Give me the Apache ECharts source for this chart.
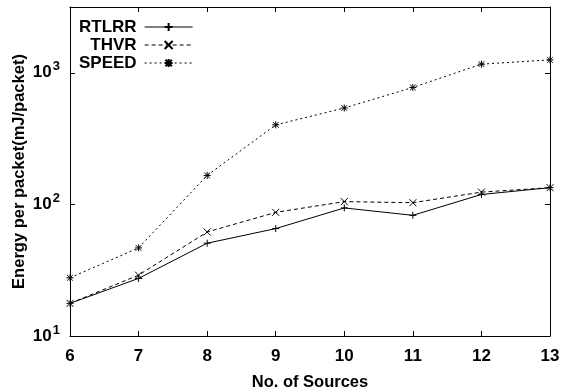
<!DOCTYPE html>
<html>
<head>
<meta charset="utf-8">
<script src="https://cdn.jsdelivr.net/npm/echarts@6/dist/echarts.min.js"></script>
<style>
  html, body {margin: 0; padding: 0; background: #fff;}
  #chart {width: 561px; height: 392px;}
</style>
</head>
<body>
<div id="chart"></div>
<script>
// values
const sources = [6, 7, 8, 9, 10, 11, 12, 13];
const rtlrr = [17.7, 27.4, 50.7, 65.5, 94, 82.6, 119, 134];
const thvr = [17.7, 29, 61.7, 87, 105, 103, 124, 134];
const speed = [27.7, 46.7, 166, 402, 540, 774, 1164, 1254];

const plus = 'path://M5,0L5,10M0,5L10,5';
const cross = 'path://M0,0L10,10M10,0L0,10';
const star = 'path://M5,0L5,10M0,5L10,5M1,1L9,9M9,1L1,9';

const font = 'Liberation Sans, Arial, sans-serif';
const pairs = (ys) => sources.map((x, i) => [x, ys[i]]);

const chart = echarts.init(document.getElementById('chart'));

function mkSeries(name, ys, dash, sym) {
  return {
    name: name,
    type: 'line',
    data: pairs(ys),
    symbol: sym,
    symbolSize: 7,
    showAllSymbol: true,
    lineStyle: {color: '#000', width: 1, type: dash},
    itemStyle: {color: '#000', borderColor: '#000', borderWidth: 1},
    emphasis: {disabled: true},
    animation: false
  };
}

chart.setOption({
  backgroundColor: '#fff',
  textStyle: {fontFamily: font},
  grid: {left: 70, right: 11, top: 7, bottom: 56, containLabel: false, outerBoundsMode: 'none'},
  legend: {
    left: 74,
    top: 13,
    orient: 'vertical',
    align: 'right',
    itemWidth: 48,
    itemHeight: 10,
    itemGap: 0,
    lineStyle: {width: 1},
    textStyle: {fontSize: 17, lineHeight: 18, fontWeight: 'bold', color: '#000', fontFamily: font, padding: [0, 3, 0, 0]},
    data: ['RTLRR', 'THVR', 'SPEED']
  },
  xAxis: [{
    type: 'value',
    min: 6, max: 13, interval: 1,
    name: 'No. of Sources',
    nameLocation: 'middle',
    nameGap: 38,
    nameMoveOverlap: false,
    nameTextStyle: {fontSize: 16.5, fontWeight: 'bold', color: '#000'},
    axisLine: {lineStyle: {color: '#000', width: 1}},
    axisTick: {inside: true, length: 5, lineStyle: {color: '#000'}},
    axisLabel: {fontSize: 17, fontWeight: 'bold', color: '#000', margin: 12},
    splitLine: {show: false}
  }, {
    type: 'value',
    position: 'top',
    min: 6, max: 13, interval: 1,
    axisLine: {show: true, lineStyle: {color: '#000', width: 1}},
    axisTick: {inside: true, length: 5, lineStyle: {color: '#000'}},
    axisLabel: {show: false},
    splitLine: {show: false}
  }],
  yAxis: [{
    type: 'log',
    logBase: 10,
    min: 10, max: 3162.2777,
    splitNumber: 5,
    name: 'Energy per packet(mJ/packet)',
    nameLocation: 'middle',
    nameGap: 42,
    nameMoveOverlap: false,
    nameTextStyle: {fontSize: 16.5, fontWeight: 'bold', color: '#000'},
    axisLine: {show: true, lineStyle: {color: '#000', width: 1}},
    axisTick: {inside: true, length: 5, lineStyle: {color: '#000'}},
    axisLabel: {
      margin: 10,
      formatter: function (v) {
        const e = Math.log10(v);
        if (Math.abs(e - Math.round(e)) > 1e-6) return '';
        return '{b|10}{s|' + Math.round(e) + '}';
      },
      rich: {
        b: {fontSize: 17, fontWeight: 'bold', color: '#000', fontFamily: font},
        s: {fontSize: 13, fontWeight: 'bold', color: '#000', fontFamily: font, padding: [0, 0, 12, 1]}
      }
    },
    splitLine: {show: false}
  }, {
    type: 'log',
    logBase: 10,
    position: 'right',
    min: 10, max: 3162.2777,
    splitNumber: 5,
    axisLine: {show: true, lineStyle: {color: '#000', width: 1}},
    axisTick: {inside: true, length: 5, lineStyle: {color: '#000'}},
    axisLabel: {show: false},
    splitLine: {show: false}
  }],
  series: [
    mkSeries('RTLRR', rtlrr, 'solid', plus),
    mkSeries('THVR', thvr, [4, 3], cross),
    mkSeries('SPEED', speed, [2, 3], star)
  ]
});
</script>
</body>
</html>
